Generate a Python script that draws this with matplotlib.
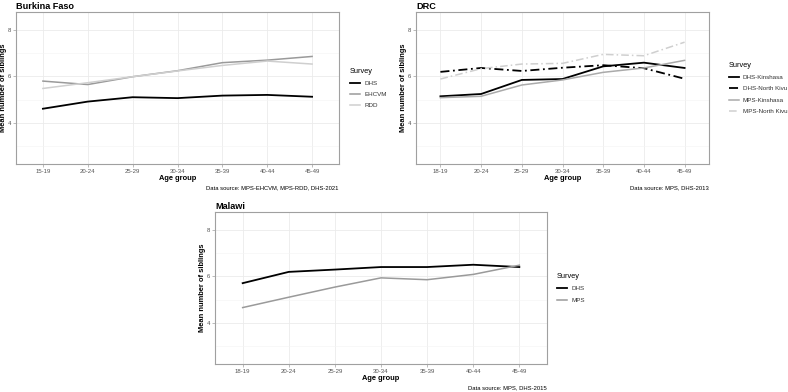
import matplotlib
matplotlib.use("Agg")
import matplotlib.pyplot as plt

plt.rcParams["font.family"] = ["Liberation Sans", "DejaVu Sans"]

# -----------------------------
# Data
# -----------------------------
age_bf = ["15-19", "20-24", "25-29", "30-34", "35-39", "40-44", "45-49"]
age_other = ["18-19", "20-24", "25-29", "30-34", "35-39", "40-44", "45-49"]

bf_dhs = [4.60, 4.91, 5.10, 5.06, 5.17, 5.20, 5.12]
bf_ehcvm = [5.80, 5.65, 5.99, 6.25, 6.60, 6.71, 6.87]
bf_rdd = [5.48, 5.73, 5.99, 6.24, 6.48, 6.67, 6.54]

drc_dhs_kin = [5.14, 5.24, 5.85, 5.89, 6.44, 6.60, 6.37]
drc_dhs_nk = [6.20, 6.37, 6.24, 6.38, 6.49, 6.36, 5.90]
drc_mps_kin = [5.08, 5.14, 5.63, 5.85, 6.18, 6.37, 6.70]
drc_mps_nk = [5.89, 6.34, 6.54, 6.57, 6.96, 6.90, 7.49]

mw_dhs = [5.71, 6.20, 6.30, 6.41, 6.41, 6.51, 6.41]
mw_mps = [4.65, 5.10, 5.54, 5.94, 5.86, 6.09, 6.49]

W, H = 788, 392
fig = plt.figure(figsize=(W / 100, H / 100), dpi=100)
fig.patch.set_facecolor("white")

DASHDOT = (0, (5, 2, 1, 2))


def add_panel(left, top, right, bottom):
    # pixel box -> figure fraction
    return fig.add_axes([left / W, (H - bottom) / H, (right - left) / W, (bottom - top) / H])


def style_panel(ax, cats, title, caption, series, legend_x, text_pad=0.65):
    x = list(range(len(cats)))
    for vals, label, colour, ls, lw in series:
        ax.plot(x, vals, color=colour, linestyle=ls, linewidth=lw, label=label)
    ax.set_xlim(-0.6, len(cats) - 0.4)
    ax.set_ylim(2.2, 8.8)
    ax.set_xticks(x)
    ax.set_xticklabels(cats)
    ax.set_yticks([4, 6, 8])
    ax.set_yticks([3, 5, 7], minor=True)
    ax.grid(True, which="major", color="#ebebeb", linewidth=0.6)
    ax.grid(True, which="minor", axis="y", color="#f4f4f4", linewidth=0.4)
    ax.set_axisbelow(True)
    for sp in ax.spines.values():
        sp.set_color("#a0a0a0")
        sp.set_linewidth(0.8)
    ax.tick_params(axis="both", which="major", labelsize=4.3, colors="#a0a0a0",
                   labelcolor="#555555", length=2, width=0.5, pad=1.5)
    ax.tick_params(axis="y", which="minor", length=0)

    # axis titles placed by hand, like the ggplot layout
    bb = ax.get_position()
    w_px, h_px = bb.width * W, bb.height * H
    ax.text(0.5, -15 / h_px, "Age group", transform=ax.transAxes, ha="center",
            va="center", fontsize=5.4, fontweight="bold")
    ax.text(-12.5 / w_px, 0.5, "Mean number of siblings", transform=ax.transAxes,
            ha="center", va="center", rotation=90, fontsize=5.4, fontweight="bold")
    ax.set_title(title, fontsize=6.6, fontweight="bold", loc="left", pad=2.5)
    ax.text(1.0, -24 / h_px, caption, transform=ax.transAxes, ha="right",
            va="center", fontsize=4.2, color="black")

    leg = ax.legend(title="Survey", loc="center left",
                    bbox_to_anchor=(legend_x, 0.5), frameon=False,
                    fontsize=4.5, title_fontsize=5.3, handlelength=1.6,
                    handletextpad=text_pad, labelspacing=0.95, alignment="left",
                    borderaxespad=0, borderpad=0)
    for t in leg.get_texts():
        t.set_color("#333333")


ax1 = add_panel(16, 12, 339, 164)
style_panel(ax1, age_bf, "Burkina Faso", "Data source: MPS-EHCVM, MPS-RDD, DHS-2021", [
    (bf_dhs, "DHS", "black", "-", 1.3),
    (bf_ehcvm, "EHCVM", "#9a9a9a", "-", 1.1),
    (bf_rdd, "RDD", "#cfcfcf", "-", 1.1),
], legend_x=1.034)

ax2 = add_panel(416, 12, 709, 164)
style_panel(ax2, age_other, "DRC", "Data source: MPS, DHS-2013", [
    (drc_dhs_kin, "DHS-Kinshasa", "black", "-", 1.3),
    (drc_dhs_nk, "DHS-North Kivu", "black", DASHDOT, 1.3),
    (drc_mps_kin, "MPS-Kinshasa", "#aaaaaa", "-", 1.1),
    (drc_mps_nk, "MPS-North Kivu", "#cfcfcf", DASHDOT, 1.1),
], legend_x=1.068)

ax3 = add_panel(215, 212, 547, 364)
style_panel(ax3, age_other, "Malawi", "Data source: MPS, DHS-2015", [
    (mw_dhs, "DHS", "black", "-", 1.3),
    (mw_mps, "MPS", "#9a9a9a", "-", 1.1),
], legend_x=1.03)

plt.savefig("out.png", dpi=100)
